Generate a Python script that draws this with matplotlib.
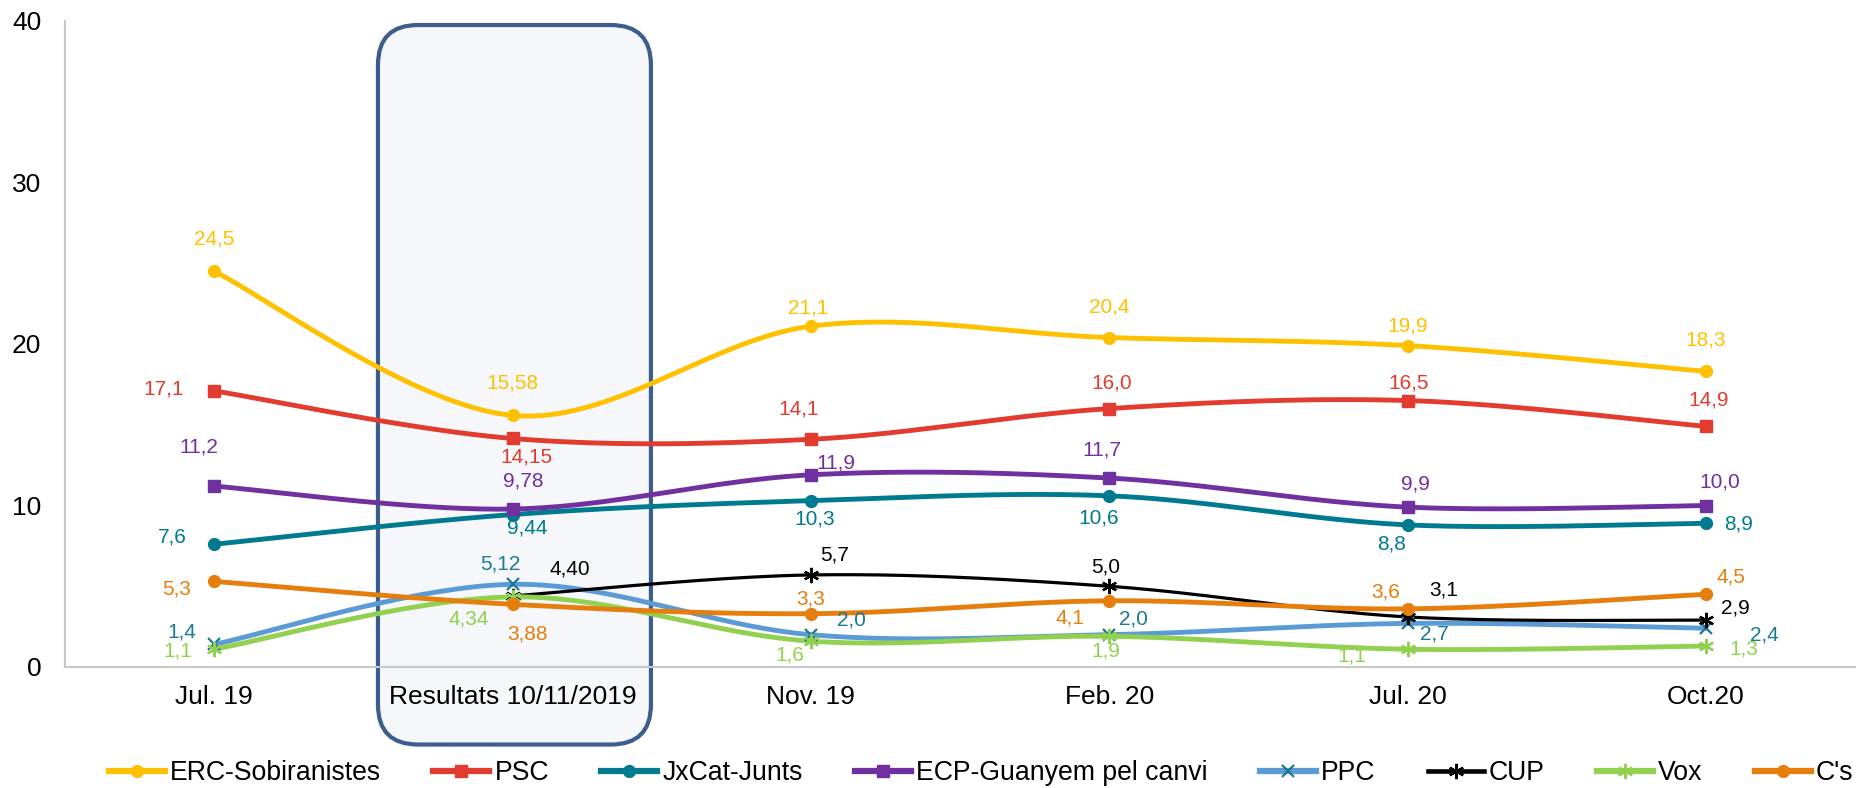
import numpy as np
import matplotlib
matplotlib.use("Agg")
import matplotlib.pyplot as plt
from matplotlib.lines import Line2D
from matplotlib.patches import FancyBboxPatch
from matplotlib.transforms import IdentityTransform

plt.rcParams["font.family"] = ["Liberation Sans", "DejaVu Sans"]

# ── data ────────────────────────────────────────────────────
categories = ["Jul. 19", "Resultats 10/11/2019", "Nov. 19", "Feb. 20", "Jul. 20", "Oct.20"]

erc = [24.5, 15.58, 21.1, 20.4, 19.9, 18.3]
psc = [17.1, 14.15, 14.1, 16.0, 16.5, 14.9]
junts = [7.6, 9.44, 10.3, 10.6, 8.8, 8.9]
ecp = [11.2, 9.78, 11.9, 11.7, 9.9, 10.0]
ppc = [1.4, 5.12, 2.0, 2.0, 2.7, 2.4]
cup = [np.nan, 4.40, 5.7, 5.0, 3.1, 2.9]
vox = [1.1, 4.34, 1.6, 1.9, 1.1, 1.3]
cs = [5.3, 3.88, 3.3, 4.1, 3.6, 4.5]

names = ["ERC-Sobiranistes", "PSC", "JxCat-Junts", "ECP-Guanyem pel canvi",
         "PPC", "CUP", "Vox", "C's"]
series = [erc, psc, junts, ecp, ppc, cup, vox, cs]

# ── styles ──────────────────────────────────────────────────
ASTER = (6, 2, 0)
styles = [
    dict(color="#FFC000", marker="o", mfc="#FFC000", mec="#FFC000", lw=3.5, ms=8.5, mew=1, txt="#FFC000"),
    dict(color="#E23B2F", marker="s", mfc="#E23B2F", mec="#E23B2F", lw=3.5, ms=8.5, mew=1, txt="#E23B2F"),
    dict(color="#007A8E", marker="o", mfc="#007A8E", mec="#007A8E", lw=3.5, ms=8.5, mew=1, txt="#007A8E"),
    dict(color="#7030A0", marker="s", mfc="#7030A0", mec="#7030A0", lw=3.5, ms=8.5, mew=1, txt="#7030A0"),
    dict(color="#5B9BD5", marker="x", mfc="none", mec="#1B7A94", lw=3.5, ms=9, mew=1.6, txt="#1B7A94"),
    dict(color="#000000", marker=ASTER, mfc="none", mec="#000000", lw=2.3, ms=11, mew=1.6, txt="#000000"),
    dict(color="#92D050", marker=ASTER, mfc="none", mec="#92D050", lw=3.5, ms=11, mew=1.6, txt="#92D050"),
    dict(color="#E57E0C", marker="o", mfc="#E57E0C", mec="#E57E0C", lw=3.5, ms=8.5, mew=1, txt="#E57E0C"),
]

# label offsets in pixels (dx, dy up)
label_off = [
    [(0, 32), (0, 32), (-3, 18), (0, 31), (0, 20), (0, 31)],
    [(-51, 2), (14, -19), (-12, 30), (3, 26), (1, 18), (3, 26)],
    [(-42, 7), (15, -13), (4, -18), (-10, -22), (-16, -19), (33, -1)],
    [(-15, 39), (11, 28), (25, 12), (-7, 28), (8, 23), (14, 23)],
    [(-32, 12), (-12, 20), (41, 15), (24, 16), (27, -11), (59, -7)],
    [None, (57, 27), (24, 20), (-4, 19), (36, 27), (30, 12)],
    [(-36, -2), (-44, -22), (-21, -14), (-3, -15), (-56, -7), (38, -3)],
    [(-38, -8), (15, -30), (0, 15), (-39, -17), (-22, 17), (25, 17)],
]


def smooth(xs, ys, n=40):
    """Excel-like smoothed line (Catmull-Rom as cubic Bezier)."""
    P = np.column_stack([xs, ys])
    E = np.vstack([P[0], P, P[-1]])
    t = np.linspace(0, 1, n)[:, None]
    out = []
    for i in range(len(P) - 1):
        p0, p1, p2, p3 = E[i], E[i + 1], E[i + 2], E[i + 3]
        c1 = p1 + (p2 - p0) / 6
        c2 = p2 - (p3 - p1) / 6
        seg = (1 - t) ** 3 * p1 + 3 * (1 - t) ** 2 * t * c1 + 3 * (1 - t) * t ** 2 * c2 + t ** 3 * p2
        out.append(seg if i == 0 else seg[1:])
    return np.vstack(out)


def fmt(v, i):
    s = f"{v:.2f}" if i == 1 else f"{v:.1f}"
    return s.replace(".", ",")


W, H = 1869, 788
fig = plt.figure(figsize=(W / 100, H / 100), dpi=100)
ax = fig.add_axes([65 / W, 121 / H, 1790 / W, 646 / H])
ax.set_xlim(-0.5, 5.5)
ax.set_ylim(0, 40)

x = np.arange(len(categories))

# highlight box around the election results
x0, x1 = ax.transData.transform([(0.549, -4.8), (1.464, 39.75)])
box = FancyBboxPatch((x0[0], x0[1]), x1[0] - x0[0], x1[1] - x0[1],
                     boxstyle="round,pad=0,rounding_size=40",
                     transform=IdentityTransform(), facecolor="#F5F7FA",
                     edgecolor="#3B5E8C", linewidth=3, zorder=0.8, clip_on=False)
ax.add_patch(box)

handles = []
for vals, name, st, offs in zip(series, names, styles, label_off):
    v = np.array(vals, dtype=float)
    ok = ~np.isnan(v)
    curve = smooth(x[ok], v[ok])
    ax.plot(curve[:, 0], curve[:, 1], color=st["color"], lw=st["lw"],
            solid_capstyle="round", zorder=2)
    ax.plot(x[ok], v[ok], ls="none", marker=st["marker"], ms=st["ms"],
            mfc=st["mfc"], mec=st["mec"], mew=st["mew"], zorder=3)
    for i in np.where(ok)[0]:
        dx, dy = offs[i]
        ax.annotate(fmt(v[i], i), (x[i], v[i]), xytext=(dx, dy),
                    textcoords="offset pixels", ha="center", va="center",
                    fontsize=15, color=st["txt"], zorder=4)
    handles.append(Line2D([], [], color=st["color"], lw=st["lw"] + 1,
                          marker=st["marker"], ms=st["ms"], mfc=st["mfc"],
                          mec=st["mec"], mew=st["mew"], label=name))

ax.set_xticks(x)
ax.set_xticklabels(categories)
ax.set_yticks([0, 10, 20, 30, 40])
ax.tick_params(axis="both", length=0, labelsize=19, colors="#000000")
ax.tick_params(axis="x", pad=13)
ax.tick_params(axis="y", pad=17)
for side in ["top", "right"]:
    ax.spines[side].set_visible(False)
for side in ["left", "bottom"]:
    ax.spines[side].set_color("#C8C8C8")
    ax.spines[side].set_linewidth(1.5)

fig.legend(handles=handles, loc="center", bbox_to_anchor=(0.525, 15 / H), ncol=8,
           frameon=False, fontsize=19.2, handlelength=2.1, handletextpad=0.2,
           columnspacing=1.95, borderaxespad=0)

fig.savefig("out.png", dpi=100)
